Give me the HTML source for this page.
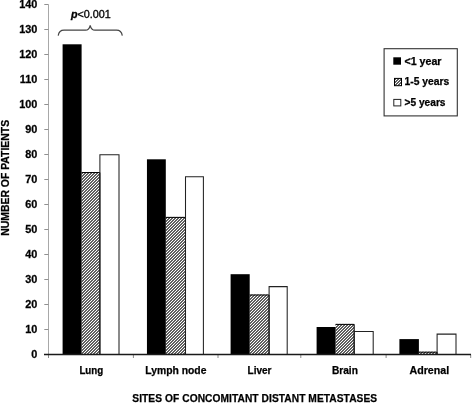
<!DOCTYPE html>
<html><head><meta charset="utf-8"><style>
html,body{margin:0;padding:0;background:#fff;}
svg{display:block;will-change:transform;}
text{font-family:"Liberation Sans",sans-serif;fill:#000;}
.yl{font-size:10.0px;font-weight:bold;stroke:#000;stroke-width:0.25px;}
.xl{font-size:10.2px;font-weight:bold;stroke:#000;stroke-width:0.25px;}
.lg{font-size:10.1px;font-weight:bold;stroke:#000;stroke-width:0.25px;}
.pv{font-size:10px;font-weight:normal;stroke:#000;stroke-width:0.3px;}
</style></head><body>
<svg width="472" height="403" viewBox="0 0 472 403">
<defs>
<pattern id="hatch" patternUnits="userSpaceOnUse" x="0" y="0" width="3" height="3">
<rect x="0" y="0" width="3" height="3" fill="#606060"/>
<rect x="1" y="0" width="1" height="1" fill="#fff"/>
<rect x="0" y="1" width="1" height="1" fill="#fff"/>
<rect x="2" y="2" width="1" height="1" fill="#fff"/>
</pattern>
</defs>
<line x1="48.5" y1="4.5" x2="48.5" y2="358" stroke="#a8a8a8" stroke-width="1"/>
<line x1="44.3" y1="4.5" x2="48.5" y2="4.5" stroke="#909090" stroke-width="1"/>
<text transform="translate(37.4,8.05) scale(1.09,1)" class="yl" text-anchor="end">140</text>
<line x1="44.3" y1="29.5" x2="48.5" y2="29.5" stroke="#909090" stroke-width="1"/>
<text transform="translate(37.4,33.05) scale(1.09,1)" class="yl" text-anchor="end">130</text>
<line x1="44.3" y1="54.5" x2="48.5" y2="54.5" stroke="#909090" stroke-width="1"/>
<text transform="translate(37.4,58.05) scale(1.09,1)" class="yl" text-anchor="end">120</text>
<line x1="44.3" y1="79.5" x2="48.5" y2="79.5" stroke="#909090" stroke-width="1"/>
<text transform="translate(37.4,83.05) scale(1.09,1)" class="yl" text-anchor="end">110</text>
<line x1="44.3" y1="104.5" x2="48.5" y2="104.5" stroke="#909090" stroke-width="1"/>
<text transform="translate(37.4,108.05) scale(1.09,1)" class="yl" text-anchor="end">100</text>
<line x1="44.3" y1="129.5" x2="48.5" y2="129.5" stroke="#909090" stroke-width="1"/>
<text transform="translate(37.4,133.05) scale(1.09,1)" class="yl" text-anchor="end">90</text>
<line x1="44.3" y1="154.5" x2="48.5" y2="154.5" stroke="#909090" stroke-width="1"/>
<text transform="translate(37.4,158.05) scale(1.09,1)" class="yl" text-anchor="end">80</text>
<line x1="44.3" y1="179.5" x2="48.5" y2="179.5" stroke="#909090" stroke-width="1"/>
<text transform="translate(37.4,183.05) scale(1.09,1)" class="yl" text-anchor="end">70</text>
<line x1="44.3" y1="204.5" x2="48.5" y2="204.5" stroke="#909090" stroke-width="1"/>
<text transform="translate(37.4,208.05) scale(1.09,1)" class="yl" text-anchor="end">60</text>
<line x1="44.3" y1="229.5" x2="48.5" y2="229.5" stroke="#909090" stroke-width="1"/>
<text transform="translate(37.4,233.05) scale(1.09,1)" class="yl" text-anchor="end">50</text>
<line x1="44.3" y1="254.5" x2="48.5" y2="254.5" stroke="#909090" stroke-width="1"/>
<text transform="translate(37.4,258.05) scale(1.09,1)" class="yl" text-anchor="end">40</text>
<line x1="44.3" y1="279.5" x2="48.5" y2="279.5" stroke="#909090" stroke-width="1"/>
<text transform="translate(37.4,283.05) scale(1.09,1)" class="yl" text-anchor="end">30</text>
<line x1="44.3" y1="304.5" x2="48.5" y2="304.5" stroke="#909090" stroke-width="1"/>
<text transform="translate(37.4,308.05) scale(1.09,1)" class="yl" text-anchor="end">20</text>
<line x1="44.3" y1="329.5" x2="48.5" y2="329.5" stroke="#909090" stroke-width="1"/>
<text transform="translate(37.4,333.05) scale(1.09,1)" class="yl" text-anchor="end">10</text>
<line x1="44.3" y1="354.5" x2="48.5" y2="354.5" stroke="#909090" stroke-width="1"/>
<text transform="translate(37.4,358.05) scale(1.09,1)" class="yl" text-anchor="end">0</text>
<rect x="81.60" y="172.05" width="18.30" height="182.45" fill="url(#hatch)"/>
<path d="M81.60,172.55 H99.90 V354.5" fill="none" stroke="#000" stroke-width="1"/>
<rect x="62.60" y="44.30" width="19.00" height="310.20" fill="#000"/>
<path d="M99.90,354.5 V154.80 H119.00 V354.5" fill="none" stroke="#222" stroke-width="1.05"/>
<rect x="165.80" y="216.90" width="19.70" height="137.60" fill="url(#hatch)"/>
<path d="M165.80,217.40 H185.50 V354.5" fill="none" stroke="#000" stroke-width="1"/>
<rect x="146.95" y="159.30" width="18.85" height="195.20" fill="#000"/>
<path d="M185.50,354.5 V176.80 H203.40 V354.5" fill="none" stroke="#222" stroke-width="1.05"/>
<rect x="249.70" y="294.50" width="19.40" height="60.00" fill="url(#hatch)"/>
<path d="M249.70,295.00 H269.10 V354.5" fill="none" stroke="#000" stroke-width="1"/>
<rect x="230.60" y="274.20" width="19.10" height="80.30" fill="#000"/>
<path d="M269.10,354.5 V286.60 H287.20 V354.5" fill="none" stroke="#222" stroke-width="1.05"/>
<rect x="335.60" y="323.90" width="18.60" height="30.60" fill="url(#hatch)"/>
<path d="M335.60,324.40 H354.20 V354.5" fill="none" stroke="#000" stroke-width="1"/>
<rect x="316.60" y="327.00" width="19.00" height="27.50" fill="#000"/>
<path d="M354.20,354.5 V331.40 H373.20 V354.5" fill="none" stroke="#222" stroke-width="1.05"/>
<rect x="418.90" y="351.70" width="18.20" height="2.80" fill="url(#hatch)"/>
<path d="M418.90,352.20 H437.10 V354.5" fill="none" stroke="#000" stroke-width="1"/>
<rect x="399.40" y="339.10" width="19.50" height="15.40" fill="#000"/>
<path d="M437.10,354.5 V334.10 H456.00 V354.5" fill="none" stroke="#222" stroke-width="1.05"/>
<line x1="48.50" y1="354.5" x2="48.50" y2="358" stroke="#8a8a8a" stroke-width="1"/>
<line x1="133.40" y1="354.5" x2="133.40" y2="358" stroke="#8a8a8a" stroke-width="1"/>
<line x1="218.00" y1="354.5" x2="218.00" y2="358" stroke="#8a8a8a" stroke-width="1"/>
<line x1="300.80" y1="354.5" x2="300.80" y2="358" stroke="#8a8a8a" stroke-width="1"/>
<line x1="386.10" y1="354.5" x2="386.10" y2="358" stroke="#8a8a8a" stroke-width="1"/>
<line x1="470.70" y1="354.5" x2="470.70" y2="358" stroke="#8a8a8a" stroke-width="1"/>
<line x1="44" y1="354.5" x2="471" y2="354.5" stroke="#1a1a1a" stroke-width="1.3"/>
<text x="79.4" y="374.1" class="xl" textLength="23.8" lengthAdjust="spacingAndGlyphs">Lung</text>
<text x="145.3" y="374.1" class="xl" textLength="61.1" lengthAdjust="spacingAndGlyphs">Lymph node</text>
<text x="247.5" y="374.1" class="xl" textLength="24.0" lengthAdjust="spacingAndGlyphs">Liver</text>
<text x="331.9" y="374.1" class="xl" textLength="26.0" lengthAdjust="spacingAndGlyphs">Brain</text>
<text x="409.5" y="374.1" class="xl" textLength="39.6" lengthAdjust="spacingAndGlyphs">Adrenal</text>
<text x="132.3" y="401.7" class="xl" textLength="244.8" lengthAdjust="spacing">SITES OF CONCOMITANT DISTANT METASTASES</text>
<text transform="translate(8.5,235.8) rotate(-90)" x="0" y="0" class="xl" textLength="115.9" lengthAdjust="spacingAndGlyphs">NUMBER OF PATIENTS</text>
<path d="M58.2,35.6 C58.8,32 60.5,30.2 64,30.2 L85.5,30.2 C88,30.2 89.6,28 90.2,25.3 C90.8,28 92.4,30.2 95,30.2 L116.5,30.2 C120,30.2 121.7,32 122.3,35.6" fill="none" stroke="#444" stroke-width="1.2"/>
<text x="71.0" y="17.6" class="pv" textLength="39.8" lengthAdjust="spacingAndGlyphs"><tspan font-style="italic" font-weight="bold">p</tspan>&lt;0.001</text>
<rect x="384.1" y="48.7" width="73.2" height="67.2" fill="#fff" stroke="#333" stroke-width="1.1"/>
<rect x="393.3" y="57.3" width="7.7" height="7.4" fill="#000"/>
<rect x="394.5" y="78.4" width="7.0" height="7.3" fill="url(#hatch)" stroke="#000" stroke-width="1"/>
<rect x="393.8" y="99.4" width="7.0" height="6.5" fill="#fff" stroke="#222" stroke-width="1"/>
<text x="404.5" y="65.1" class="lg" textLength="37" lengthAdjust="spacingAndGlyphs">&lt;1 year</text>
<text x="404.5" y="85.1" class="lg" textLength="44.7" lengthAdjust="spacingAndGlyphs">1-5 years</text>
<text x="404.5" y="105.5" class="lg" textLength="41" lengthAdjust="spacingAndGlyphs">&gt;5 years</text>
</svg>
</body></html>
